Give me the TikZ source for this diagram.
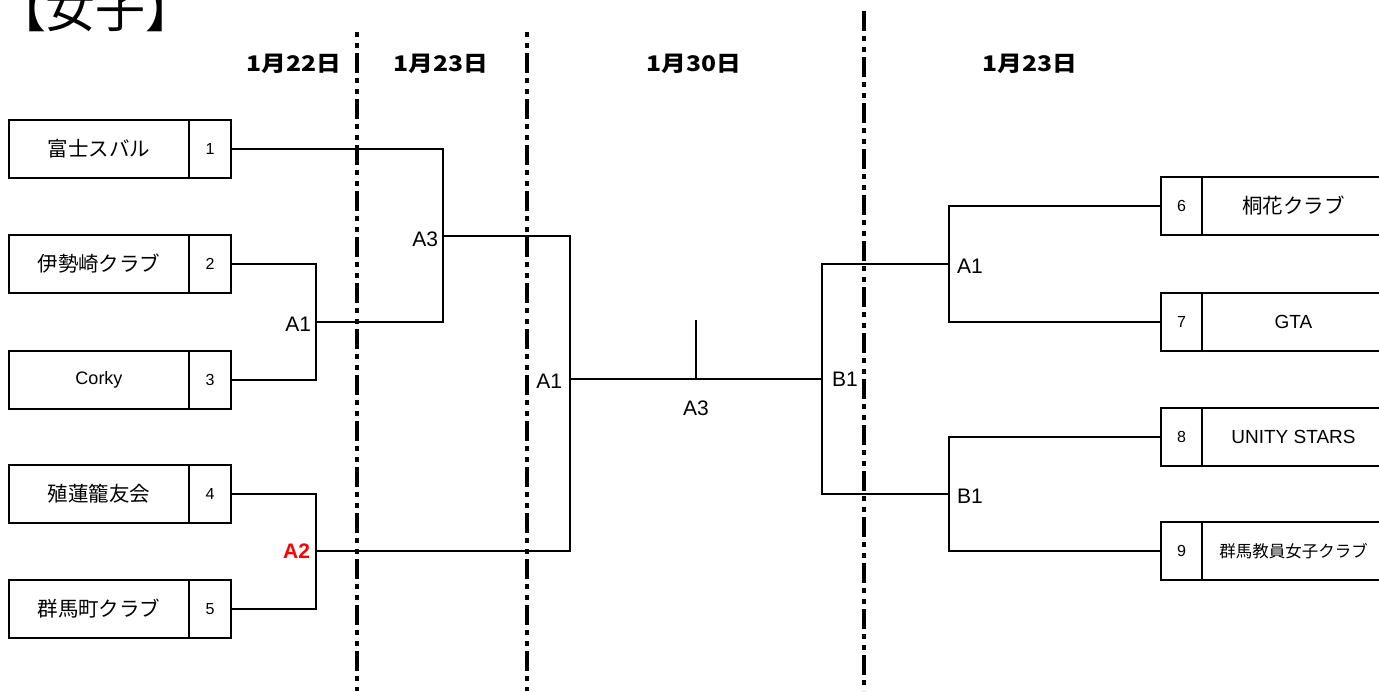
\documentclass[tikz,border=0pt]{standalone}
\usepackage{fontspec}
\setmainfont{Liberation Sans}
\newfontfamily\jpfont{Noto Sans CJK JP}
\newfontfamily\datefont[FakeStretch=1.15]{Noto Sans CJK JP}
\usetikzlibrary{positioning}

\begin{document}
\begin{tikzpicture}[x=1pt,y=-1pt,line width=2pt]
			\tikzstyle{every node} = [inner sep=0pt,outer sep=0pt];
			\tikzstyle{jpname} = [draw,minimum height=58pt,font=\jpfont\fontsize{20.5}{24}\selectfont];
			\tikzstyle{enname} = [draw,minimum height=58pt,font=\fontsize{19}{22}\selectfont];
			\tikzstyle{numbox} = [draw,minimum height=58pt,font=\fontsize{16}{18}\selectfont];
			\tikzstyle{matchlbl} = [font=\fontsize{21}{24}\selectfont];
			\tikzstyle{datelbl} = [font=\datefont\bfseries\fontsize{21.5}{24}\selectfont];
			\tikzstyle{dayline} = [line width=4pt,dash pattern=on 5pt off 6pt on 5pt off 5pt on 20pt off 5pt];
			\useasboundingbox (0,0) rectangle (1379,691);
			\clip (0,0) rectangle (1379,691);
			\node[font=\jpfont\fontsize{50}{56}\selectfont,anchor=base west] (title) at (-4,27) {【女子】};
			\node[datelbl] (d1) at (294,64) {1月22日};
			\node[datelbl] (d2) at (441,64) {1月23日};
			\node[datelbl] (d3) at (694,64) {1月30日};
			\node[datelbl] (d4) at (1030,64) {1月23日};
			\foreach \x/\y/\p in {357/32/0, 527/32/0, 864/11/21}
				\draw[dayline,dash phase=\p pt] (\x,\y) -- (\x,691);
			% left side
			\node[jpname,minimum width=180pt] (t1) at (99,149) {富士スバル};
			\node[jpname,minimum width=180pt] (t2) at (99,264) {伊勢崎クラブ};
			\node[enname,minimum width=180pt,font=\fontsize{18}{22}\selectfont] (t3) at (99,380) {Corky};
			\node[jpname,minimum width=180pt] (t4) at (99,494) {殖蓮籠友会};
			\node[jpname,minimum width=180pt] (t5) at (99,609) {群馬町クラブ};
			\node[numbox,minimum width=42pt] (1) at (210,149) {1};
			\node[numbox,minimum width=42pt] (2) at (210,264) {2};
			\node[numbox,minimum width=42pt] (3) at (210,380) {3};
			\node[numbox,minimum width=42pt] (4) at (210,494) {4};
			\node[numbox,minimum width=42pt] (5) at (210,609) {5};
			% right side
			\node[numbox,minimum width=41pt] (6) at (1181.5,206) {6};
			\node[numbox,minimum width=41pt] (7) at (1181.5,322) {7};
			\node[numbox,minimum width=41pt] (8) at (1181.5,437) {8};
			\node[numbox,minimum width=41pt] (9) at (1181.5,551) {9};
			\node[jpname,minimum width=183pt] (t6) at (1293.5,206) {桐花クラブ};
			\node[enname,minimum width=183pt] (t7) at (1293.5,322) {GTA};
			\node[enname,minimum width=183pt] (t8) at (1293.5,437) {UNITY STARS};
			\node[jpname,minimum width=183pt,font=\jpfont\fontsize{16.5}{20}\selectfont] (t9) at (1293.5,551) {群馬教員女子クラブ};
			% bracket
			\coordinate (m23) at (316,322);
			\coordinate (m45) at (316,551);
			\coordinate (m13) at (443,236);
			\coordinate (mL) at (570,379);
			\coordinate (fin) at (696,379);
			\coordinate (top) at (696,320);
			\coordinate (mR) at (822,379);
			\coordinate (m67) at (949,264);
			\coordinate (m89) at (949,494);
			\draw (2.east) -| (m23) |- (3.east);
			\draw (4.east) -| (m45) |- (5.east);
			\draw (1.east) -| (m13) |- (m23);
			\draw (m13) -| (mL) |- (m45);
			\draw (mL) -- (mR);
			\draw (fin) -- (top);
			\draw (6.west) -| (m67) |- (7.west);
			\draw (8.west) -| (m89) |- (9.west);
			\draw (m67) -| (mR) |- (m89);
			\node[matchlbl,left=5pt of m23,yshift=-2pt] (l23) {A1};
			\node[matchlbl,left=6pt of m45,text=red,font=\bfseries\fontsize{21}{24}\selectfont] (l45) {A2};
			\node[matchlbl,left=5pt of m13,yshift=-3pt] (l13) {A3};
			\node[matchlbl,left=8pt of mL,yshift=-2pt] (lL) {A1};
			\node[matchlbl,below=22pt of fin] (lfin) {A3};
			\node[matchlbl,right=10pt of mR] (lR) {B1};
			\node[matchlbl,right=8pt of m67,yshift=-2pt] (l67) {A1};
			\node[matchlbl,right=8pt of m89,yshift=-2pt] (l89) {B1};
		\end{tikzpicture}
\end{document}
